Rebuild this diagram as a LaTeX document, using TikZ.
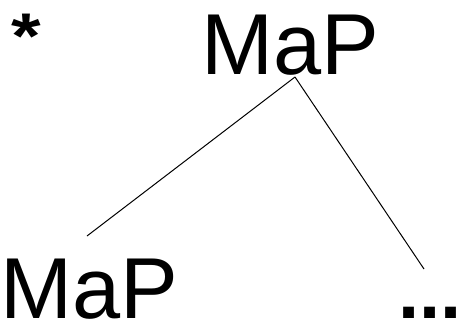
\documentclass[tikz,border=0pt]{standalone}
\usepackage{fontspec}
\setmainfont{Liberation Sans}
\begin{document}
\begin{tikzpicture}[x=1pt,y=-1pt,
  lbl/.style={anchor=base west,inner sep=0pt,outer sep=0pt,text depth=0pt,font=\fontsize{86.5}{90}\selectfont},
  edge/.style={line width=1pt,black}]
\useasboundingbox (0,0) rectangle (461,324);
\node[lbl,font=\fontsize{76}{80}\selectfont\bfseries,yscale=0.85] (star) at (12,58) {*};
\node[lbl] (top) at (201.6,74) {MaP};
\node[lbl] (left) at (0.6,318) {MaP};
\node[lbl,font=\fontsize{76}{80}\selectfont\bfseries] (dots) at (398,318) {...};
\coordinate (apex) at (295,77);
\coordinate (lend) at (87,236);
\coordinate (rend) at (424,269);
\draw[edge] (apex) -- (lend);
\draw[edge] (apex) -- (rend);
\end{tikzpicture}
\end{document}
